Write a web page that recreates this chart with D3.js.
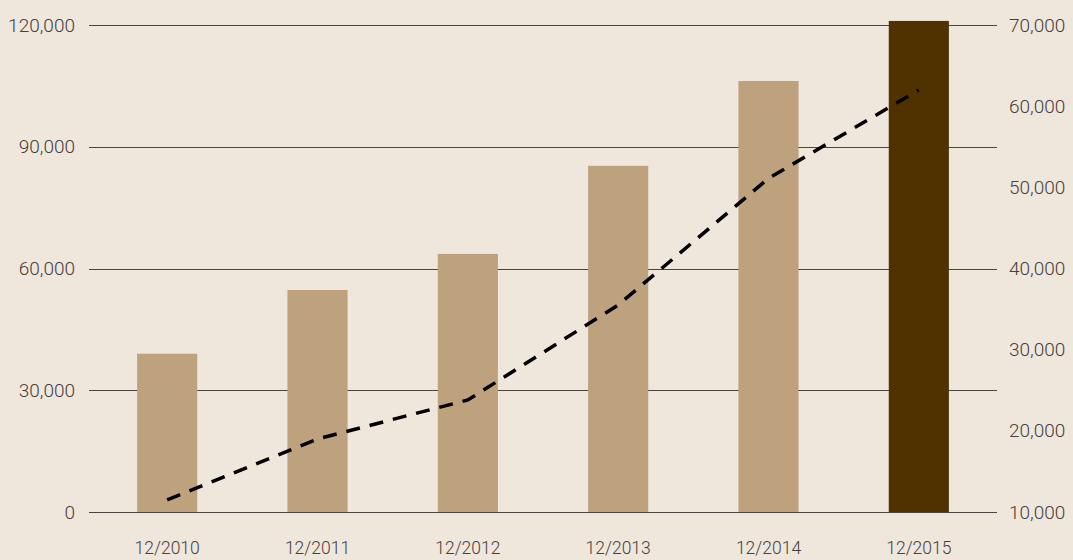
<!DOCTYPE html>
<html><head><meta charset="utf-8">
<script src="https://cdn.jsdelivr.net/npm/d3@7"></script>
<style>
html,body{margin:0;padding:0;background:#efe6dc;}
svg{display:block;}
text{font-family:Roboto,"DejaVu Sans",sans-serif;font-weight:300;fill:#45403d;}
</style></head>
<body><svg id="c" width="1073" height="560"></svg>
<script>
const categories = ["12/2010","12/2011","12/2012","12/2013","12/2014","12/2015"];
const barValues = [39000, 54700, 63600, 85300, 106200, 121000];
const lineValues = [11500, 19000, 23800, 35500, 51100, 62000];
const leftTicks = [0, 30000, 60000, 90000, 120000];
const rightTicks = [10000, 20000, 30000, 40000, 50000, 60000, 70000];

const svg = d3.select("#c");
const W = 1073, H = 560;
svg.append("rect").attr("width", W).attr("height", H).attr("fill", "#efe6dc");

const gx0 = 89, gx1 = 997, yTop = 25, yBot = 512;
const x = d3.scaleBand().domain(categories).range([92, 994]).paddingInner(0.6).paddingOuter(0.3);
const yL = d3.scaleLinear().domain([0, 120000]).range([yBot, yTop]);
const yR = d3.scaleLinear().domain([10000, 70000]).range([yBot, yTop]);
const fmt = d3.format(",");
const FS = 19;

// gridlines
svg.append("g").selectAll("line").data(leftTicks).join("line")
  .attr("x1", gx0).attr("x2", gx1)
  .attr("y1", d => Math.round(yL(d)) + 0.5).attr("y2", d => Math.round(yL(d)) + 0.5)
  .attr("stroke", "#4a4440").attr("stroke-width", 1.2);

// left axis
const la = svg.append("g").attr("transform", `translate(${gx0},0)`)
  .call(d3.axisLeft(yL).tickValues(leftTicks).tickFormat(fmt).tickSize(0).tickPadding(14));
la.select(".domain").remove();
la.selectAll("text").attr("font-size", FS).attr("font-family", "Roboto").attr("fill", "#45403d");

// right axis
const ra = svg.append("g").attr("transform", `translate(${gx1},0)`)
  .call(d3.axisRight(yR).tickValues(rightTicks).tickFormat(fmt).tickSize(0).tickPadding(12));
ra.select(".domain").remove();
ra.selectAll("text").attr("font-size", FS).attr("font-family", "Roboto").attr("fill", "#45403d");

// bars
svg.append("g").selectAll("rect").data(categories).join("rect")
  .attr("x", d => x(d)).attr("width", x.bandwidth())
  .attr("y", (d, i) => yL(barValues[i]))
  .attr("height", (d, i) => yBot - yL(barValues[i]))
  .attr("fill", (d, i) => i === categories.length - 1 ? "#4f3200" : "#bea27d");

// x axis labels
const xa = svg.append("g").attr("transform", `translate(0,${yBot})`)
  .call(d3.axisBottom(x).tickSize(0).tickPadding(30));
xa.select(".domain").remove();
xa.selectAll("text").attr("font-size", 17.5).attr("font-family", "Roboto").attr("fill", "#45403d");

// dashed line
const line = d3.line()
  .x((d, i) => x(categories[i]) + x.bandwidth() / 2)
  .y(d => yR(d));
svg.append("path").datum(lineValues)
  .attr("d", line).attr("fill", "none")
  .attr("stroke", "#000").attr("stroke-width", 3.5)
  .attr("stroke-dasharray", "14,10");
</script></body></html>
